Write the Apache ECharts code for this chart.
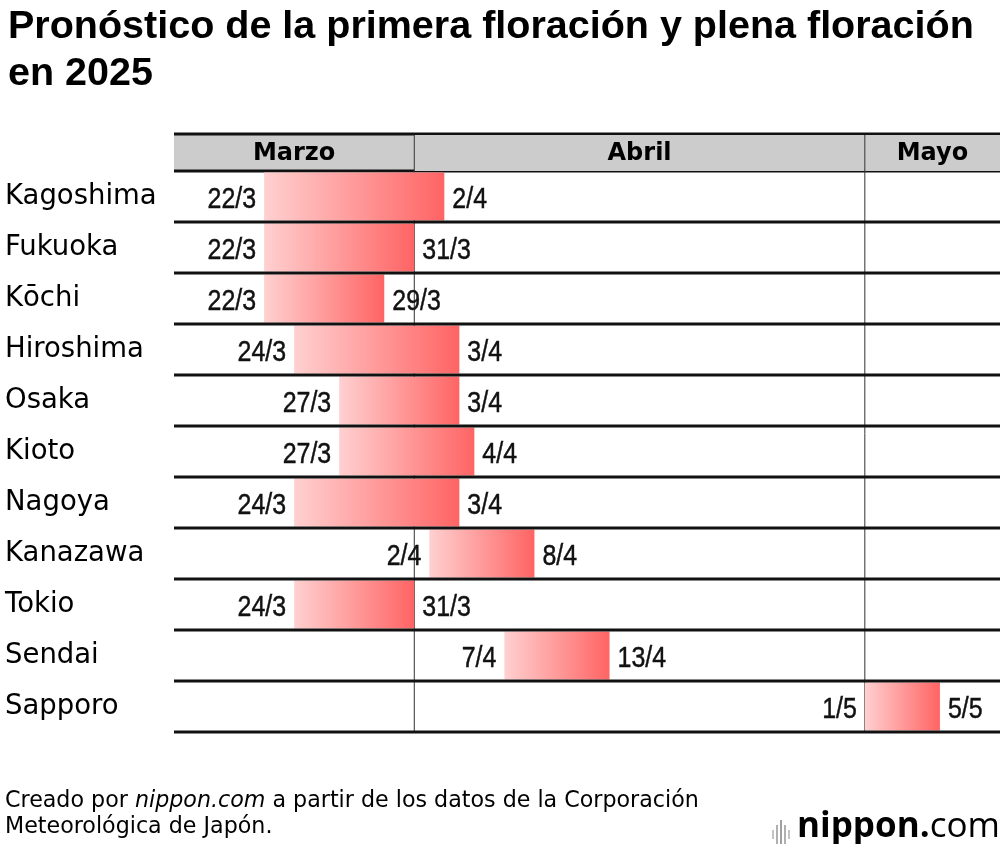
<!DOCTYPE html>
<html><head><meta charset="utf-8">
<script src="https://cdn.jsdelivr.net/npm/echarts@6/dist/echarts.min.js"></script>
<style>html,body{margin:0;padding:0;background:#fff}#c{width:1000px;height:844px}</style>
</head><body><div id="c"></div>
<script>
const cities = ['Kagoshima','Fukuoka','Kōchi','Hiroshima','Osaka','Kioto','Nagoya','Kanazawa','Tokio','Sendai','Sapporo'];
const firstBloom = ['22/3','22/3','22/3','24/3','27/3','27/3','24/3','2/4','24/3','7/4','1/5'];
const fullBloom  = ['2/4','31/3','29/3','3/4','3/4','4/4','3/4','8/4','31/3','13/4','5/5'];
const months = ['Marzo','Abril','Mayo'];
const monthNums = [3,4,5];
const axisStart = '16/3';
const axisEnd = '10/5';

const DAY = 86400000;
function ts(s){const [d,m]=s.split('/').map(Number);return Date.UTC(2025,m-1,d);}
const NUMFONT = "'Liberation Sans',Arial,sans-serif";
const BASEFONT = "'Liberation Sans',Helvetica,Arial,sans-serif";
const WIDEFONT = "'DejaVu Sans',sans-serif";

const barData = cities.map((c,i)=>[ts(firstBloom[i]), ts(fullBloom[i])+DAY, i]);
const monthData = monthNums.map(m=>[Date.UTC(2025,m-1,1), Date.UTC(2025,m,1)]);
const rowData = cities.map((c,i)=>[0,i]);

const chart = echarts.init(document.getElementById('c'));
chart.setOption({
  animation:false,
  backgroundColor:'#fff',
  grid:{left:174,right:0,top:171,bottom:112,containLabel:false},
  xAxis:{type:'time',min:ts(axisStart),max:ts(axisEnd),show:false},
  yAxis:{type:'category',data:cities,inverse:true,
    axisLine:{show:false},axisTick:{show:false},splitLine:{show:false},
    axisLabel:{show:true,align:'left',margin:169,color:'#000',fontFamily:WIDEFONT,fontSize:27.5,fontWeight:'normal'}},
  title:[
    {text:'Pronóstico de la primera floración y plena floración\nen 2025',left:3,top:-1,
     textStyle:{fontFamily:BASEFONT,fontSize:39.5,fontWeight:'bold',color:'#000',lineHeight:47}},
  ],
  graphic:[
    {type:'text',left:5,top:790,style:{
      text:'{n|Creado por }{i|nippon.com}{n| a partir de los datos de la Corporación}\n{n|Meteorológica de Japón.}',
      rich:{n:{fontFamily:WIDEFONT,fontSize:22.2,color:'#000',lineHeight:26},
            i:{fontFamily:WIDEFONT,fontSize:22.2,fontStyle:'italic',color:'#000',lineHeight:26}}}},
    {type:'group',left:772,top:810,children:[
      {type:'rect',shape:{x:0,y:10,width:2,height:9},style:{fill:'#c4c4c4'}},
      {type:'rect',shape:{x:4,y:5,width:2,height:19},style:{fill:'#b0b0b0'}},
      {type:'rect',shape:{x:8,y:0,width:2,height:29},style:{fill:'#a0a0a0'}},
      {type:'rect',shape:{x:12,y:5,width:2,height:19},style:{fill:'#b0b0b0'}},
      {type:'rect',shape:{x:16,y:10,width:2,height:9},style:{fill:'#c4c4c4'}},
      {type:'text',x:25,y:-10,style:{
        text:'{a|nippon}{b|.}{c|com}',
        rich:{a:{fontFamily:"'Open Sans',sans-serif",fontSize:35,fontWeight:'bold',color:'#6a6a6a'},
              b:{fontFamily:"'Open Sans',sans-serif",fontSize:35,fontWeight:'bold',color:'#e60012'},
              c:{fontFamily:"'Open Sans',sans-serif",fontSize:35,fontWeight:'normal',color:'#8a8a8a'}}}}
    ]}
  ],
  series:[
    { // month header and vertical month lines
      type:'custom',z:1,clip:false,data:monthData,
      renderItem(params,api){
        const cs=params.coordSys;
        const i=params.dataIndex;
        let x0=api.coord([api.value(0),0])[0];
        let x1=api.coord([api.value(1),0])[0];
        const L=cs.x,R=cs.x+cs.width;
        const left=Math.max(L,x0), right=Math.min(R,x1);
        const top=cs.y-36;
        const ch=[
          {type:'rect',shape:{x:left,y:top,width:right-left,height:36},style:{fill:'#cccccc'}},
          {type:'text',style:{text:months[i],x:(left+right)/2,y:top+19,align:'center',verticalAlign:'middle',
            font:"bold 24px "+WIDEFONT,fill:'#000'}},
        ];
        if(x0>L){
          ch.push({type:'line',shape:{x1:x0,y1:top,x2:x0,y2:cs.y+cs.height},style:{stroke:'#333',lineWidth:1}});
        }
        if(i===0){
          ch.push({type:'line',shape:{x1:L,y1:top-1,x2:R,y2:top-1},style:{stroke:'#111',lineWidth:3}});
          ch.push({type:'line',shape:{x1:L,y1:cs.y,x2:R,y2:cs.y},style:{stroke:'#111',lineWidth:3}});
        }
        return {type:'group',children:ch};
      }
    },
    { // bloom bars
      type:'custom',z:2,clip:false,data:barData,
      renderItem(params,api){
        const i=params.dataIndex;
        const s=api.coord([api.value(0),api.value(2)]);
        const e=api.coord([api.value(1),api.value(2)]);
        const h=api.size([0,1])[1];
        const txt=(t,x,al)=>({type:'text',x:x,y:s[1]+3,scaleX:0.86,style:{text:t,x:0,y:0,align:al,verticalAlign:'middle',
            font:"29px "+NUMFONT,fill:'#111',stroke:'#111',lineWidth:0.45}});
        return {type:'group',children:[
          {type:'rect',shape:{x:s[0],y:s[1]-h/2+1.5,width:e[0]-s[0],height:h-3},
           style:{fill:new echarts.graphic.LinearGradient(0,0,1,0,[{offset:0,color:'#ffd0d0'},{offset:1,color:'#ff6464'}])}},
          txt(firstBloom[i],s[0]-8,'right'),
          txt(fullBloom[i],e[0]+8,'left')
        ]};
      }
    },
    { // row separators
      type:'custom',z:3,clip:false,data:rowData,
      renderItem(params,api){
        const cs=params.coordSys;
        const c=api.coord([cs.x,api.value(1)]);
        const h=api.size([0,1])[1];
        const y=c[1]+h/2;
        return {type:'line',shape:{x1:cs.x,y1:y,x2:cs.x+cs.width,y2:y},style:{stroke:'#111',lineWidth:3}};
      }
    }
  ]
});
</script></body></html>
